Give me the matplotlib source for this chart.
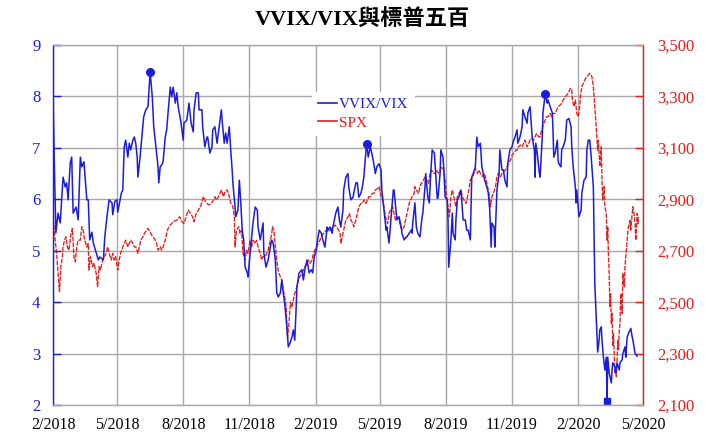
import matplotlib
matplotlib.use("Agg")
import matplotlib.pyplot as plt
import pandas as pd
from matplotlib.lines import Line2D

start = pd.Timestamp("2018-02-01")
end = pd.Timestamp("2020-05-01")

# VVIX/VIX ratio: (days since 2018-02-01, value)
vr_days = [0, 2, 4, 7, 10, 14, 17, 19, 21, 24, 26, 28, 32, 35, 38, 40, 43, 47, 49, 51, 54, 56, 60, 63, 65, 70, 72, 75, 78, 82, 83, 86, 89, 90, 95, 97, 99, 101, 104, 106, 108, 111, 113, 115, 117, 118, 121, 124, 126, 129, 132, 135, 138, 140, 143, 146, 147, 149, 152, 153, 156, 158, 160, 163, 165, 167, 170, 172, 174, 178, 181, 182, 186, 189, 192, 195, 196, 199, 202, 203, 207, 208, 211, 214, 215, 218, 221, 222, 225, 228, 231, 234, 235, 238, 240, 242, 245, 247, 249, 250, 253, 254, 257, 259, 261, 263, 265, 267, 270, 271, 274, 277, 278, 281, 284, 285, 288, 291, 292, 293, 296, 299, 302, 304, 306, 309, 311, 313, 316, 318, 320, 322, 325, 327, 329, 332, 334, 336, 338, 339, 342, 346, 348, 350, 353, 356, 359, 361, 363, 366, 367, 370, 373, 375, 378, 381, 382, 385, 388, 389, 393, 396, 398, 400, 403, 404, 407, 410, 411, 414, 417, 418, 421, 423, 425, 428, 430, 432, 435, 436, 438, 441, 443, 445, 448, 450, 453, 456, 457, 460, 463, 464, 467, 470, 473, 474, 477, 478, 481, 484, 485, 488, 491, 492, 495, 498, 499, 500, 503, 505, 507, 510, 513, 514, 517, 518, 521, 523, 525, 527, 530, 531, 534, 535, 538, 539, 542, 543, 545, 548, 549, 550, 553, 555, 556, 559, 560, 562, 564, 567, 568, 570, 573, 575, 577, 580, 582, 584, 587, 589, 591, 594, 596, 598, 600, 603, 605, 607, 609, 610, 613, 614, 617, 620, 621, 624, 626, 628, 631, 632, 635, 638, 639, 642, 645, 646, 649, 652, 653, 656, 659, 660, 663, 664, 666, 669, 670, 671, 673, 676, 677, 680, 681, 682, 684, 687, 688, 691, 694, 695, 696, 698, 701, 702, 703, 706, 707, 709, 712, 713, 714, 717, 720, 721, 723, 726, 727, 728, 730, 731, 734, 735, 738, 741, 742, 744, 746, 748, 751, 752, 753, 756, 757, 759, 760, 762, 763, 765, 767, 769, 770, 771, 773, 776, 777, 778, 781, 782, 784, 787, 788, 791, 792, 795, 796, 798, 800, 803, 805, 806, 809, 812]
vr_vals = [8.05, 6.6, 5.35, 5.73, 5.54, 6.43, 6.24, 6.32, 5.99, 6.71, 6.82, 5.73, 5.85, 5.6, 6.82, 6.63, 6.73, 5.99, 5.99, 5.21, 5.36, 5.15, 4.96, 4.82, 4.88, 4.82, 5.27, 5.66, 5.99, 5.93, 5.7, 5.96, 5.99, 5.75, 6.12, 6.18, 7.02, 7.15, 6.82, 7.09, 6.96, 7.15, 7.21, 7.09, 6.82, 6.43, 6.82, 7.29, 7.6, 7.74, 7.8, 8.48, 7.99, 7.41, 7.02, 6.63, 6.32, 6.63, 6.69, 6.73, 7.21, 7.35, 7.7, 8.18, 7.99, 8.18, 7.87, 8.07, 7.8, 7.48, 7.15, 7.48, 7.54, 7.87, 7.48, 7.31, 7.74, 8.07, 8.07, 7.74, 7.74, 7.41, 7.02, 7.21, 7.21, 6.9, 7.02, 7.35, 7.41, 7.09, 7.41, 7.74, 7.54, 7.09, 7.29, 7.09, 7.41, 6.96, 6.57, 6.32, 5.85, 5.66, 5.79, 6.37, 5.93, 5.4, 5.21, 4.68, 4.57, 4.49, 4.96, 5.4, 5.54, 5.85, 5.79, 5.46, 5.21, 5.46, 5.54, 4.96, 4.68, 4.82, 5.07, 5.21, 5.15, 4.82, 4.18, 4.1, 4.18, 4.43, 4.18, 3.98, 3.52, 3.13, 3.19, 3.32, 3.46, 3.26, 3.91, 4.29, 4.57, 4.63, 4.43, 4.63, 4.82, 4.57, 4.63, 4.57, 4.88, 5.01, 5.15, 5.4, 5.34, 5.21, 5.07, 5.46, 5.4, 5.46, 5.34, 5.46, 5.73, 5.85, 5.6, 5.46, 5.79, 6.18, 6.43, 6.5, 6.24, 5.99, 6.04, 6.12, 6.32, 6.32, 6.04, 6.12, 6.24, 6.43, 6.96, 7.08, 6.82, 7.02, 6.9, 6.76, 6.5, 6.63, 6.69, 6.57, 6.18, 5.79, 5.4, 5.46, 5.15, 5.66, 6.18, 6.18, 5.73, 5.6, 5.66, 5.46, 5.34, 5.21, 5.27, 5.27, 5.34, 5.4, 5.34, 5.54, 5.93, 5.46, 5.34, 5.27, 5.66, 5.73, 6.24, 6.5, 6.04, 5.93, 6.5, 6.96, 6.9, 6.69, 6.02, 6.02, 6.5, 6.96, 6.82, 6.63, 6.04, 5.99, 5.6, 4.68, 5.21, 5.73, 5.34, 5.21, 5.6, 5.99, 6.04, 6.18, 5.99, 5.6, 5.6, 5.4, 5.4, 5.21, 6.43, 6.5, 6.63, 7.21, 7.02, 7.09, 6.63, 6.5, 6.37, 6.24, 6.12, 5.79, 5.07, 5.54, 5.46, 5.07, 6.18, 6.5, 6.96, 6.57, 6.57, 6.37, 6.24, 6.69, 6.96, 7.02, 7.09, 7.21, 7.35, 7.09, 7.21, 7.41, 7.74, 7.6, 7.48, 7.68, 7.8, 7.6, 7.21, 6.96, 6.43, 7.09, 6.9, 6.5, 6.43, 7.21, 7.68, 7.8, 8.04, 7.87, 7.93, 7.8, 7.68, 7.29, 6.82, 6.9, 7.15, 6.76, 6.69, 6.63, 6.96, 7.02, 7.15, 7.35, 7.54, 7.57, 7.41, 7.02, 6.63, 6.24, 5.93, 6.18, 5.85, 5.66, 5.79, 6.12, 6.37, 6.43, 6.96, 7.15, 7.15, 6.82, 6.24, 5.34, 4.37, 3.4, 3.03, 3.26, 3.46, 3.52, 3.26, 2.93, 2.68, 2.93, 2.08, 2.93, 2.62, 2.43, 2.68, 2.82, 2.74, 2.62, 2.82, 2.68, 2.82, 2.88, 3.0, 3.13, 2.93, 3.32, 3.4, 3.49, 3.32, 3.26, 3.0, 2.95]

# S&P 500: (days since 2018-02-01, close)
spx_days = [0, 1, 3, 5, 7, 9, 11, 13, 14, 16, 18, 20, 22, 24, 25, 27, 29, 31, 33, 35, 38, 40, 42, 44, 47, 49, 50, 52, 55, 57, 60, 62, 64, 66, 69, 71, 74, 76, 78, 81, 83, 85, 87, 90, 92, 94, 97, 99, 101, 104, 106, 108, 111, 113, 115, 118, 120, 122, 125, 127, 130, 132, 135, 137, 139, 142, 144, 146, 149, 151, 153, 156, 158, 160, 163, 165, 167, 172, 176, 179, 182, 185, 188, 191, 194, 196, 199, 202, 205, 209, 211, 214, 217, 220, 223, 225, 227, 230, 232, 234, 237, 239, 242, 244, 247, 250, 252, 253, 255, 258, 260, 262, 264, 267, 269, 271, 274, 276, 278, 281, 283, 285, 288, 290, 292, 295, 297, 299, 302, 304, 305, 307, 308, 310, 312, 314, 316, 318, 320, 322, 324, 325, 326, 328, 330, 332, 334, 336, 339, 341, 343, 346, 348, 350, 353, 355, 357, 360, 362, 364, 366, 369, 371, 373, 376, 378, 380, 383, 385, 387, 390, 392, 394, 397, 399, 400, 403, 405, 407, 410, 412, 414, 417, 418, 421, 423, 425, 428, 430, 432, 435, 437, 439, 441, 444, 446, 448, 451, 453, 455, 458, 460, 462, 465, 467, 469, 472, 474, 476, 478, 481, 483, 485, 488, 490, 492, 495, 497, 499, 502, 503, 505, 508, 510, 512, 515, 517, 519, 522, 524, 526, 529, 531, 533, 536, 538, 540, 543, 545, 547, 549, 551, 553, 555, 557, 560, 562, 564, 567, 569, 571, 574, 576, 578, 580, 583, 585, 587, 590, 592, 594, 597, 599, 601, 604, 606, 608, 610, 612, 615, 617, 619, 622, 624, 626, 629, 631, 633, 636, 638, 640, 643, 645, 647, 650, 652, 654, 656, 659, 661, 663, 665, 668, 670, 672, 675, 677, 679, 682, 684, 686, 688, 691, 693, 695, 698, 700, 702, 705, 707, 709, 712, 714, 716, 719, 721, 722, 724, 726, 728, 730, 732, 733, 735, 737, 739, 742, 744, 746, 749, 751, 753, 755, 757, 758, 760, 762, 763, 764, 766, 767, 769, 770, 771, 772, 773, 774, 775, 776, 777, 778, 779, 780, 781, 782, 783, 784, 785, 786, 787, 788, 789, 791, 792, 794, 795, 796, 798, 799, 800, 802, 803, 805, 806, 807, 809, 810, 812, 813, 814]
spx_vals = [2822, 2806, 2741, 2690, 2612, 2541, 2638, 2677, 2715, 2741, 2754, 2715, 2702, 2741, 2767, 2787, 2677, 2657, 2715, 2741, 2741, 2793, 2780, 2741, 2715, 2728, 2625, 2677, 2638, 2651, 2612, 2560, 2638, 2625, 2664, 2677, 2690, 2715, 2690, 2664, 2690, 2664, 2677, 2625, 2664, 2690, 2715, 2728, 2741, 2715, 2728, 2741, 2728, 2715, 2715, 2690, 2715, 2741, 2754, 2767, 2780, 2787, 2774, 2761, 2754, 2741, 2728, 2702, 2715, 2702, 2715, 2741, 2767, 2787, 2800, 2806, 2813, 2819, 2832, 2813, 2806, 2832, 2858, 2845, 2832, 2813, 2845, 2858, 2871, 2910, 2897, 2884, 2878, 2884, 2897, 2910, 2897, 2910, 2923, 2936, 2910, 2930, 2936, 2923, 2884, 2871, 2832, 2715, 2780, 2793, 2767, 2780, 2690, 2664, 2702, 2690, 2741, 2715, 2741, 2728, 2741, 2715, 2690, 2664, 2677, 2677, 2690, 2702, 2741, 2767, 2793, 2780, 2741, 2690, 2638, 2612, 2599, 2586, 2547, 2521, 2482, 2417, 2360, 2420, 2500, 2482, 2508, 2534, 2560, 2586, 2599, 2612, 2625, 2638, 2651, 2664, 2651, 2664, 2690, 2702, 2715, 2728, 2741, 2754, 2767, 2774, 2780, 2774, 2780, 2787, 2793, 2800, 2793, 2780, 2767, 2728, 2767, 2793, 2819, 2832, 2845, 2819, 2806, 2793, 2819, 2845, 2871, 2884, 2884, 2897, 2884, 2897, 2910, 2910, 2923, 2923, 2936, 2942, 2949, 2923, 2897, 2871, 2832, 2806, 2845, 2858, 2871, 2845, 2819, 2832, 2819, 2793, 2780, 2793, 2819, 2845, 2884, 2897, 2910, 2923, 2949, 2936, 2923, 2949, 2962, 2975, 2988, 2975, 2962, 3001, 3014, 3001, 3001, 3014, 3001, 3014, 3027, 3014, 2975, 2910, 2871, 2832, 2910, 2936, 2910, 2871, 2910, 2923, 2936, 2910, 2897, 2884, 2910, 2936, 2975, 2988, 3001, 3020, 3001, 3014, 3001, 2988, 3001, 2988, 2949, 2923, 2871, 2910, 2923, 2949, 2988, 3001, 2988, 3001, 3007, 3014, 3027, 3040, 3053, 3072, 3078, 3091, 3091, 3104, 3111, 3104, 3117, 3130, 3104, 3117, 3130, 3137, 3130, 3143, 3156, 3143, 3143, 3169, 3195, 3208, 3221, 3221, 3234, 3221, 3234, 3234, 3247, 3260, 3267, 3273, 3286, 3299, 3305, 3312, 3331, 3325, 3286, 3260, 3286, 3234, 3221, 3260, 3299, 3338, 3351, 3364, 3377, 3383, 3390, 3377, 3338, 3260, 3182, 3091, 3130, 3027, 3104, 2975, 2897, 2949, 2871, 2845, 2741, 2793, 2677, 2612, 2482, 2534, 2417, 2456, 2327, 2378, 2301, 2223, 2236, 2210, 2275, 2352, 2314, 2391, 2417, 2534, 2456, 2612, 2560, 2638, 2677, 2741, 2780, 2793, 2819, 2780, 2845, 2871, 2858, 2806, 2741, 2845, 2806, 2832]

peak_days = [135, 436, 684]
trough_days = [770]

xtick_dates = ["2018-02-01", "2018-05-01", "2018-08-01", "2018-11-01", "2019-02-01",
               "2019-05-01", "2019-08-01", "2019-11-01", "2020-02-01", "2020-05-01"]
xtick_labels = ["2/2018", "5/2018", "8/2018", "11/2018", "2/2019",
                "5/2019", "8/2019", "11/2019", "2/2020", "5/2020"]
left_ticks = [2, 3, 4, 5, 6, 7, 8, 9]
right_ticks = [2100, 2300, 2500, 2700, 2900, 3100, 3300, 3500]

title = "VVIX/VIX與標普五百"

BLUE = "#1c1cdc"
RED = "#e41c1c"
GRID = "#a8a8a8"

plt.rcParams['font.family'] = ['Liberation Serif', 'Noto Sans CJK TC']

vr_x = start + pd.to_timedelta(vr_days, unit="D")
spx_x = start + pd.to_timedelta(spx_days, unit="D")
vr_series = pd.Series(vr_vals, index=vr_days)

fig = plt.figure(figsize=(7.25, 4.42), dpi=100)
axs = fig.add_axes([53 / 725, 1 - 405 / 442, 590 / 725, 360 / 442])
axv = axs.twinx()
axs.yaxis.tick_right()
axv.yaxis.tick_left()
axs.set_zorder(1)
axv.set_zorder(2)
axs.patch.set_facecolor("white")
axv.patch.set_visible(False)

# SPX (bottom layer, carries the grid)
axs.plot(spx_x, spx_vals, color=RED, lw=0.95, linestyle=(0, (3.5, 1.0)))
axs.set_ylim(right_ticks[0], right_ticks[-1])
axs.set_yticks(right_ticks)
axs.set_yticklabels([f"{v:,}" for v in right_ticks])
axs.set_xlim(start, end)
axs.set_xticks(pd.to_datetime(xtick_dates))
axs.set_xticklabels(xtick_labels)
axs.grid(True, color=GRID, lw=1.0)
axs.set_axisbelow(True)
axs.tick_params(axis='x', length=0, pad=8.5, labelsize=11.5, labelcolor="black")
axs.tick_params(axis='y', direction='in', length=6, width=1, color=RED,
                labelcolor=RED, labelsize=12, pad=10)
for s in axs.spines.values():
    s.set_visible(False)

# VVIX/VIX (top layer)
axv.plot(vr_x, vr_vals, color=BLUE, lw=1.1)
pk_x = start + pd.to_timedelta(peak_days, unit="D")
axv.plot(pk_x, vr_series.loc[peak_days].values, 'o', color=BLUE, ms=5.5, clip_on=False)
tr_x = start + pd.to_timedelta(trough_days, unit="D")
axv.plot(tr_x, vr_series.loc[trough_days].values, 's', color=BLUE, ms=5, clip_on=False)
axv.set_ylim(left_ticks[0], left_ticks[-1])
axv.set_yticks(left_ticks)
axv.tick_params(axis='y', direction='in', length=6, width=1, color=BLUE,
                labelcolor=BLUE, labelsize=12, pad=9)
axv.spines['left'].set_color(BLUE)
axv.spines['right'].set_color(RED)
axv.spines['top'].set_color(GRID)
axv.spines['bottom'].set_color(GRID)
for s in axv.spines.values():
    s.set_linewidth(1.0)

handles = [Line2D([], [], color=BLUE, lw=1.2), Line2D([], [], color=RED, lw=1.2)]
leg = axv.legend(handles, ["VVIX/VIX", "SPX"], loc="upper left",
                 bbox_to_anchor=(304 / 725, 1 - 84 / 442), bbox_transform=fig.transFigure,
                 fontsize=11, handlelength=1.25, handletextpad=0.15, labelspacing=0.3,
                 borderpad=0.4, frameon=True, fancybox=False, framealpha=1,
                 facecolor="white", edgecolor="none")
for t, c in zip(leg.get_texts(), [BLUE, RED]):
    t.set_color(c)

fig.text(0.5, 1 - 19 / 442, title, ha="center", va="center", fontsize=16,
         fontweight="bold", color="black")

fig.savefig("out.png", dpi=100)
